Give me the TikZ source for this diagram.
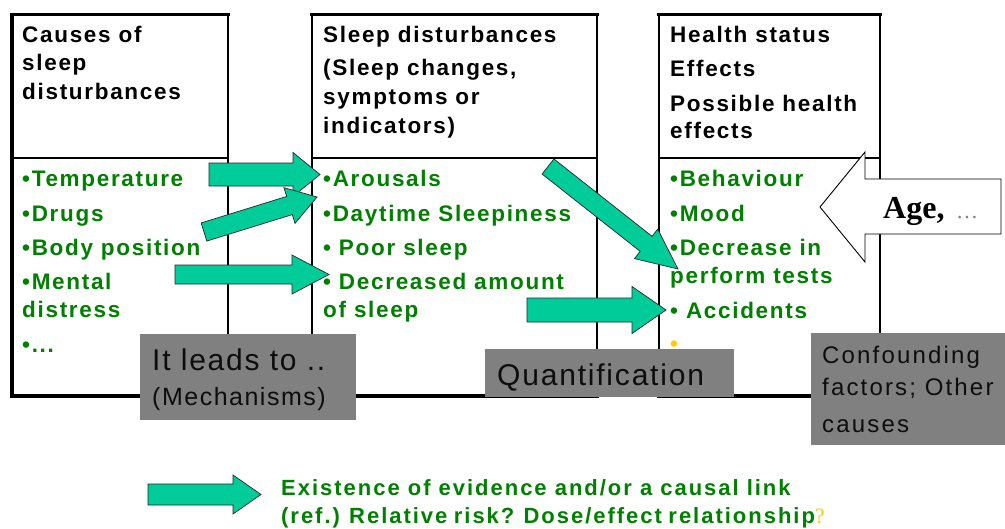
\documentclass[tikz,border=0pt]{standalone}
\usepackage{fontspec}
\usetikzlibrary{calc}
\setmainfont{Liberation Sans}
\newfontfamily\fA{Liberation Sans}[LetterSpace=7.5]
\newfontfamily\fL{Liberation Sans}[LetterSpace=9]
\newfontfamily\fG{Liberation Sans}[LetterSpace=6]
\newfontfamily\fC{Liberation Sans}[LetterSpace=9]
\newfontfamily\fS{Liberation Serif}
\definecolor{tgreen}{RGB}{0,128,0}
\definecolor{agreen}{RGB}{0,204,153}
\definecolor{gbfill}{RGB}{128,128,128}
\definecolor{tyellow}{RGB}{255,204,0}
\definecolor{agegray}{RGB}{128,128,128}
\newcommand\blockarrow[5]{%
  \coordinate (ba-base) at ($(#2)!#5!(#1)$);
  \filldraw[garrow] ($(#1)!#3!90:(#2)$) -- ($(ba-base)!#3!90:(#2)$) -- ($(ba-base)!#4!90:(#2)$) -- (#2) -- ($(ba-base)!#4!-90:(#2)$) -- ($(ba-base)!#3!-90:(#2)$) -- ($(#1)!#3!-90:(#2)$) -- cycle;}
\tikzset{
  hdr/.style={anchor=base west, inner sep=0pt, text=black, font=\fA\bfseries\fontsize{22.5}{22.5}\selectfont},
  lst/.style={hdr, text=tgreen},
  thinline/.style={draw=black, line width=1.4pt},
  thickline/.style={draw=black, line width=3.5pt, line cap=rect},
  garrow/.style={fill=agreen, draw=black!85, line width=0.7pt, line join=miter},
  gbox/.style={fill=gbfill, draw=none, inner sep=0pt, anchor=north west},
  gtext/.style={anchor=base west, inner sep=0pt, text=black!95},
  legtext/.style={anchor=base west, inner sep=0pt, text=tgreen, font=\fL\bfseries\fontsize{22}{22}\selectfont},
}
\begin{document}
\begin{tikzpicture}[x=1pt,y=-1pt]
\useasboundingbox[fill=white] (0,0) rectangle (1005,528);
% ---- box frames
\foreach \l/\r in {12/228, 312/597, 659/880}{
  \draw[thinline] (\l,14.5) -- (\l,396);
  \draw[thinline] (\r,14.5) -- (\r,396);
  \draw[thinline] (\l,158) -- (\r,158);
  \draw[thickline] (\l,14.5) -- (\r,14.5);
  \draw[thickline] (\l,396) -- (\r,396);
}
\draw[thickline] (12,14.5) -- (12,396);
% ---- box 1 texts
\node[hdr] (c1) at (22,42) {Causes of};
\node[hdr] (c2) at (22,70) {sleep};
\node[hdr] (c3) at (22,99) {disturbances};
\node[lst] (l11) at (22,186) {•Temperature};
\node[lst] (l12) at (22,221) {•Drugs};
\node[lst] (l13) at (22,255) {•Body position};
\node[lst] (l14) at (22,289) {•Mental};
\node[lst] (l15) at (22,317) {distress};
\node[lst] (l16) at (22,352) {•...};
% ---- box 2 texts
\node[hdr] (s1) at (323,42) {Sleep disturbances};
\node[hdr] (s2) at (323,75) {(Sleep changes,};
\node[hdr] (s3) at (323,104) {symptoms or};
\node[hdr] (s4) at (323,133) {indicators)};
\node[lst] (l21) at (323,186) {•Arousals};
\node[lst] (l22) at (323,221) {•Daytime Sleepiness};
\node[lst] (l23) at (323,255) {• Poor sleep};
\node[lst] (l24) at (323,289) {• Decreased amount};
\node[lst] (l25) at (323,317) {of sleep};
% ---- box 3 texts
\node[hdr] (h1) at (670,42) {Health status};
\node[hdr] (h2) at (670,76) {Effects};
\node[hdr] (h3) at (670,111) {Possible health};
\node[hdr] (h4) at (670,138) {effects};
\node[lst] (l31) at (670,186) {•Behaviour};
\node[lst] (l32) at (670,221) {•Mood};
\node[lst] (l33) at (670,255) {•Decrease in};
\node[lst] (l34) at (670,283) {perform tests};
\node[lst] (l35) at (670,318) {• Accidents};
\node[lst, text=tyellow] (l36) at (670,351) {•};
% ---- green block arrows
\coordinate (a1t) at (209,174.5); \coordinate (a1h) at (320,174.5);
\coordinate (a2t) at (204,232);   \coordinate (a2h) at (317,197);
\coordinate (a3t) at (175,274.5); \coordinate (a3h) at (329,274.5);
\coordinate (a4t) at (548,166.5); \coordinate (a4h) at (678,269);
\coordinate (a5t) at (527,310);   \coordinate (a5h) at (666,310);
\blockarrow{a1t}{a1h}{11.5pt}{22pt}{27pt}
\blockarrow{a2t}{a2h}{9.5pt}{18.7pt}{28.8pt}
\blockarrow{a3t}{a3h}{9.5pt}{19.5pt}{37pt}
\blockarrow{a4t}{a4h}{9.6pt}{18.8pt}{40.6pt}
\blockarrow{a5t}{a5h}{12pt}{23.5pt}{34pt}
% ---- Age arrow
\coordinate (agetip) at (820,207);
\filldraw[fill=white, draw=black, line width=0.9pt, line join=miter] (agetip) -- (865,152) -- (865,179) -- (1001,179) -- (1001,234) -- (865,234) -- (865,262) -- cycle;
\node[anchor=base west, inner sep=0pt, font=\fS\bfseries\fontsize{32}{32}\selectfont] (age) at (883,218) {Age,};
\node[anchor=base west, inner sep=0pt, text=agegray, font=\fS\fontsize{22}{22}\selectfont] (agedots) at (956,218) {…};
% ---- gray boxes
\node[gbox, minimum width=216pt, minimum height=86pt] (lead) at (140,334) {};
\node[gtext, font=\fG\fontsize{30}{30}\selectfont] (leadt1) at (152,370) {It leads to ..};
\node[gtext, font=\fG\fontsize{25}{25}\selectfont] (leadt2) at (152,405) {(Mechanisms)};
\node[gbox, minimum width=249pt, minimum height=48pt] (quant) at (485,349) {};
\node[gtext, font=\fG\fontsize{30}{30}\selectfont] (quantt) at (497,385) {Quantification};
\node[gbox, minimum width=194pt, minimum height=112pt] (conf) at (811,333) {};
\node[gtext, font=\fC\fontsize{24}{24}\selectfont] (conft1) at (822,363) {Confounding};
\node[gtext, font=\fC\fontsize{24}{24}\selectfont] (conft2) at (822,395) {factors; Other};
\node[gtext, font=\fC\fontsize{24}{24}\selectfont] (conft3) at (822,432) {causes};
% ---- legend
\coordinate (lgt) at (148,494.5); \coordinate (lgh) at (261,494.5);
\blockarrow{lgt}{lgh}{10.5pt}{19.5pt}{28pt}
\node[legtext] (leg1) at (281,495) {Existence of evidence and/or a causal link};
\node[legtext] (leg2) at (281,523) {\spaceskip=6.5pt\relax (ref.) Relative risk? Dose/effect relationship{\fS\mdseries\color{tyellow}?}};
\end{tikzpicture}
\end{document}
